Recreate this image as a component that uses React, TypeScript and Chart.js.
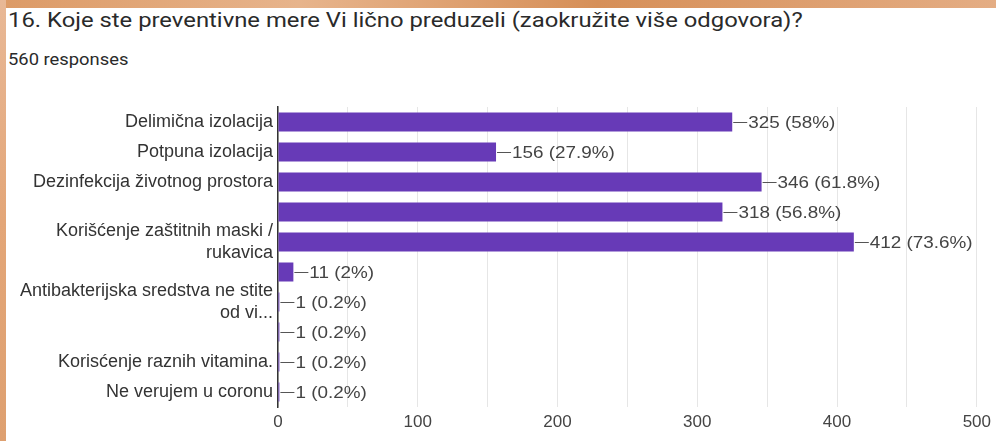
import React, { useEffect, useRef } from "react";
import { Chart, registerables } from "chart.js";

Chart.register(...registerables);

const title = "16. Koje ste preventivne mere Vi lično preduzeli (zaokružite više odgovora)?";
const subtitle = "560 responses";

const categories: (string | string[])[] = [
  "Delimična izolacija",
  "Potpuna izolacija",
  "Dezinfekcija životnog prostora",
  "",
  ["Korišćenje zaštitnih maski /", "rukavica"],
  "",
  ["Antibakterijska sredstva ne stite", "od vi..."],
  "",
  "Korisćenje raznih vitamina.",
  "Ne verujem u coronu",
];

const values = [325, 156, 346, 318, 412, 11, 1, 1, 1, 1];
const percents = ["58%", "27.9%", "61.8%", "56.8%", "73.6%", "2%", "0.2%", "0.2%", "0.2%", "0.2%"];

const xMax = 500;
const xStep = 50;
const xLabelStep = 100;

const W = 996;
const H = 441;

export default function App() {
  const ref = useRef<HTMLCanvasElement | null>(null);

  useEffect(() => {
    const canvas = ref.current;
    if (!canvas) return;

    const dataLabels = {
      id: "dataLabels",
      afterDatasetsDraw(chart: any) {
        const ctx = chart.ctx;
        const meta = chart.getDatasetMeta(0);
        const sx = 1.11;
        meta.data.forEach((el: any, i: number) => {
          const x = el.x;
          const y = el.y;
          ctx.save();
          ctx.strokeStyle = "#555555";
          ctx.lineWidth = 1;
          ctx.beginPath();
          ctx.moveTo(x + 1, Math.round(y) + 0.5);
          ctx.lineTo(x + 15, Math.round(y) + 0.5);
          ctx.stroke();
          ctx.translate(x + 16, y + 1);
          ctx.scale(sx, 1);
          ctx.font = "17px 'Liberation Sans', Arial, sans-serif";
          ctx.textBaseline = "middle";
          ctx.textAlign = "left";
          ctx.fillStyle = "#444444";
          ctx.fillText(`${values[i]} (${percents[i]})`, 0, 0);
          ctx.restore();
        });
      },
    };

    const chart = new Chart(canvas, {
      type: "bar",
      data: {
        labels: categories,
        datasets: [
          {
            data: values,
            backgroundColor: "#673ab7",
            borderWidth: 0,
            barPercentage: 0.63,
            categoryPercentage: 1,
          },
        ],
      },
      options: {
        indexAxis: "y",
        responsive: false,
        animation: false,
        maintainAspectRatio: false,
        layout: { padding: { top: 107, right: 19, left: 0, bottom: 0 } },
        plugins: {
          legend: { display: false },
          tooltip: { enabled: false },
        },
        scales: {
          x: {
            min: 0,
            max: xMax,
            afterFit(scale: any) {
              scale.height = 34;
            },
            grid: { color: "#e6e6e6", drawTicks: false, lineWidth: 1 },
            border: { display: false },
            ticks: {
              stepSize: xStep,
              autoSkip: false,
              maxRotation: 0,
              padding: 5,
              color: "#444444",
              font: { size: 17, family: "'Liberation Sans', Arial, sans-serif" },
              callback: (v: any) => (Number(v) % xLabelStep === 0 ? String(v) : ""),
            },
          },
          y: {
            afterFit(scale: any) {
              scale.width = 278;
            },
            grid: { display: false, drawTicks: false },
            border: { display: true, color: "#333333", width: 1.5 },
            ticks: {
              autoSkip: false,
              padding: 5,
              color: "#333333",
              font: { size: 18, family: "'Liberation Sans', Arial, sans-serif", lineHeight: 1.22 },
            },
          },
        },
      },
      plugins: [dataLabels],
    });

    return () => chart.destroy();
  }, []);

  return (
    <div
      style={{
        position: "absolute",
        left: 0,
        top: 0,
        width: W,
        height: H,
        overflow: "hidden",
        background: "linear-gradient(90deg, #dc9a66 0%, #e7b48c 30%, #d68f58 60%, #e4ad84 100%)",
      }}
    >
      <div
        style={{
          position: "absolute",
          left: 6,
          top: 8,
          right: 0,
          bottom: 0,
          background: "#ffffff",
        }}
      />
      <div
        style={{
          position: "absolute",
          left: 0,
          top: 0,
          width: 6,
          height: H,
          background: "linear-gradient(180deg, #e8b896 0%, #e3a678 50%, #dea070 100%)",
        }}
      />
      <div
        style={{
          position: "absolute",
          left: 8,
          top: 7,
          font: "21px Roboto, 'Open Sans', sans-serif",
          color: "#2a2a2a",
          whiteSpace: "nowrap",
          lineHeight: "26px",
          transform: "scaleX(1.135)",
          transformOrigin: "0 0",
        }}
      >
        {title}
      </div>
      <div
        style={{
          position: "absolute",
          left: 8,
          top: 49,
          font: "17px Roboto, 'Open Sans', sans-serif",
          color: "#2a2a2a",
          whiteSpace: "nowrap",
          lineHeight: "20px",
          transform: "scaleX(1.08)",
          transformOrigin: "0 0",
        }}
      >
        {subtitle}
      </div>
      <canvas
        ref={ref}
        width={W}
        height={H}
        style={{ position: "absolute", left: 0, top: 0, width: W, height: H }}
      />
    </div>
  );
}
